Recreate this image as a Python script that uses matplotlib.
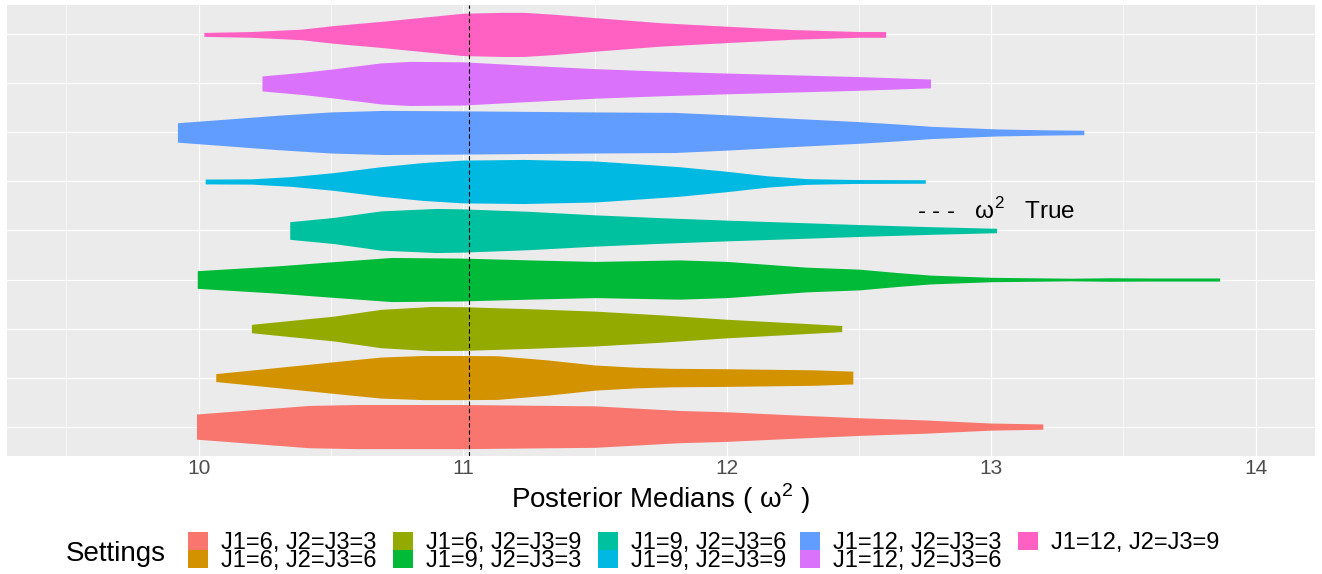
import matplotlib.pyplot as plt
from matplotlib.patches import Rectangle

plt.rcParams['font.family'] = ['Liberation Sans', 'DejaVu Sans']

settings = ["J1=6, J2=J3=3", "J1=6, J2=J3=6", "J1=6, J2=J3=9",
            "J1=9, J2=J3=3", "J1=9, J2=J3=6", "J1=9, J2=J3=9",
            "J1=12, J2=J3=3", "J1=12, J2=J3=6", "J1=12, J2=J3=9"]
fills = ["#F8766D", "#D39200", "#93AA00", "#00BA38", "#00C19F",
         "#00B9E3", "#619CFF", "#DB72FB", "#FF61C3"]

# density profiles of the posterior medians (grid value, relative density)
x_6_3 = [9.992, 10.2, 10.42, 10.6, 11.0, 11.5, 11.82, 12.0, 12.25, 12.5, 12.75, 13.0, 13.195]
d_6_3 = [0.57, 0.76, 0.96, 1.00, 1.00, 0.94, 0.73, 0.67, 0.53, 0.40, 0.30, 0.16, 0.12]

x_6_6 = [10.065, 10.3, 10.53, 10.69, 10.85, 11.0, 11.13, 11.32, 11.5, 11.65, 11.785, 12.0, 12.2, 12.33, 12.476]
d_6_6 = [0.18, 0.46, 0.74, 0.93, 1.00, 1.00, 0.99, 0.80, 0.57, 0.47, 0.42, 0.40, 0.37, 0.35, 0.29]

x_6_9 = [10.2, 10.35, 10.51, 10.69, 10.88, 11.0, 11.25, 11.5, 11.75, 12.0, 12.25, 12.434]
d_6_9 = [0.19, 0.37, 0.56, 0.87, 1.00, 0.99, 0.90, 0.79, 0.62, 0.42, 0.26, 0.14]

x_9_3 = [9.995, 10.3, 10.5, 10.73, 11.0, 11.25, 11.5, 11.82, 12.0, 12.3, 12.5, 12.65, 12.77, 13.0, 13.3, 13.45, 13.6, 13.864]
d_9_3 = [0.40, 0.62, 0.80, 1.00, 0.97, 0.89, 0.82, 0.89, 0.82, 0.56, 0.47, 0.31, 0.20, 0.10, 0.06, 0.08, 0.07, 0.07]

x_9_6 = [10.345, 10.51, 10.69, 10.9, 11.0, 11.25, 11.5, 11.75, 12.0, 12.25, 12.5, 12.75, 13.02]
d_9_6 = [0.40, 0.59, 0.89, 1.00, 0.98, 0.87, 0.71, 0.58, 0.47, 0.37, 0.27, 0.18, 0.10]

x_9_9 = [10.025, 10.2, 10.35, 10.51, 10.69, 10.85, 11.0, 11.23, 11.5, 11.65, 11.82, 12.0, 12.15, 12.3, 12.48, 12.75]
d_9_9 = [0.11, 0.12, 0.22, 0.40, 0.67, 0.86, 0.97, 1.00, 0.93, 0.81, 0.67, 0.46, 0.26, 0.13, 0.09, 0.08]

x_12_3 = [9.92, 10.1, 10.3, 10.5, 10.7, 11.0, 11.5, 11.8, 12.0, 12.25, 12.5, 12.65, 12.77, 13.02, 13.2, 13.35]
d_12_3 = [0.44, 0.60, 0.78, 0.93, 1.00, 0.98, 0.93, 0.91, 0.80, 0.64, 0.49, 0.38, 0.28, 0.16, 0.12, 0.10]

x_12_6 = [10.24, 10.4, 10.51, 10.69, 10.8, 11.0, 11.25, 11.5, 11.75, 12.0, 12.25, 12.5, 12.77]
d_12_6 = [0.34, 0.51, 0.66, 0.93, 1.00, 0.98, 0.82, 0.67, 0.56, 0.47, 0.39, 0.31, 0.20]

x_12_9 = [10.02, 10.2, 10.39, 10.51, 10.69, 10.85, 11.0, 11.15, 11.23, 11.35, 11.5, 11.75, 12.0, 12.25, 12.5, 12.6]
d_12_9 = [0.09, 0.13, 0.24, 0.40, 0.59, 0.78, 0.96, 1.00, 1.00, 0.91, 0.76, 0.53, 0.37, 0.22, 0.13, 0.13]

true_omega2 = 11.025

profiles = [(x_6_3, d_6_3), (x_6_6, d_6_6), (x_6_9, d_6_9),
            (x_9_3, d_9_3), (x_9_6, d_9_6), (x_9_9, d_9_9),
            (x_12_3, d_12_3), (x_12_6, d_12_6), (x_12_9, d_12_9)]

W, H = 1322, 574
fig = plt.figure(figsize=(W / 100, H / 100), dpi=100)
ax = fig.add_axes([7 / W, (H - 456) / H, 1308 / W, 451 / H])
ax.set_facecolor('#EBEBEB')

# violins: width 0.9 at the density peak
for i, (xs, ds) in enumerate(profiles, start=1):
    peak = max(ds)
    half = [0.45 * d / peak for d in ds]
    ax.fill_between(xs, [i - h for h in half], [i + h for h in half],
                    color=fills[i - 1], lw=0, zorder=2)

ax.axvline(true_omega2, color='black', lw=0.8, ls=(0, (4, 2.5)), zorder=3)
ax.text(12.72, 5.237, '- - -   ω$^\\mathregular{2}$   True', fontsize=17.5,
        ha='left', va='baseline', zorder=4)

# xlim 9.5-14 plus ggplot's 5% expansion
ax.set_xlim(9.5 - 0.225, 14 + 0.225)
ax.set_ylim(0.4, 9.6)
ax.set_xticks([10, 11, 12, 13, 14])
ax.set_xticks([9.5, 10.5, 11.5, 12.5, 13.5], minor=True)
ax.set_yticks(range(1, 10))
ax.set_yticklabels([])
ax.grid(which='major', color='white', lw=0.8)
ax.grid(which='minor', axis='x', color='white', lw=0.5)
ax.set_axisbelow(True)
ax.tick_params(which='both', length=0)
ax.tick_params(axis='x', labelsize=15, labelcolor='#4D4D4D', pad=2.5)
for s in ax.spines.values():
    s.set_visible(False)

fig.text(661 / W, 1 - 508 / H, 'Posterior Medians ( ω$^\\mathregular{2}$ )',
         fontsize=20, ha='center', va='baseline')

# legend at the bottom, filled column by column
fig.text(66 / W, 1 - 561 / H, 'Settings', fontsize=20, ha='left', va='baseline')
col_left = [188, 393, 598, 800, 1018]
for k, (lab, c) in enumerate(zip(settings, fills)):
    x0 = col_left[k // 2]
    y0 = 532 + 18 * (k % 2)
    fig.add_artist(Rectangle((x0 / W, 1 - (y0 + 18) / H), 20 / W, 18 / H,
                             transform=fig.transFigure, facecolor=c, lw=0))
    fig.text((x0 + 33) / W, 1 - (y0 + 17) / H, lab, fontsize=17,
             ha='left', va='baseline')

fig.savefig('out.png', dpi=100)
